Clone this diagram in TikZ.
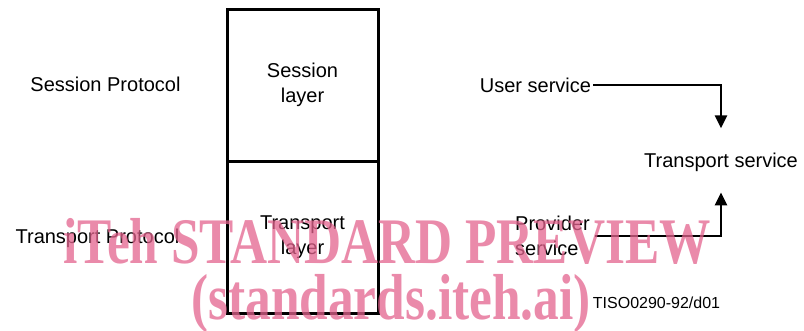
\documentclass[tikz,border=0pt]{standalone}
\usepackage{fontspec}
\setmainfont{Liberation Sans}
\newfontfamily\wmfont{Liberation Serif}
\usetikzlibrary{arrows.meta}
\definecolor{wmpink}{RGB}{228,100,142}

\begin{document}
\begin{tikzpicture}[x=1pt,y=-1pt,
    lbl/.style={font=\fontsize{20}{25}\selectfont,inner sep=0pt},
    layerbox/.style={draw,line width=3pt,minimum width=151pt,minimum height=152pt,
      align=center,font=\fontsize{20}{25}\selectfont},
    flow/.style={line width=2.6pt,-{Triangle[width=12pt,length=13pt]}},
    wmark/.style={text=wmpink,opacity=0.75,inner sep=0pt,anchor=base,xscale=0.79,
      font=\wmfont\bfseries\fontsize{65}{65}\selectfont}]

  \useasboundingbox[fill=white] (0,0) rectangle (804,330);

  % the two layers
  \node[layerbox] (sl) at (302.5,85) {Session\\layer};
  \node[layerbox] (tl) at (302.5,237) {Transport\\layer};

  \begin{scope}[every node/.style={lbl,anchor=base}]
    \node (sp) at (105.5,91)  {Session Protocol};
    \node (tp) at (97.5,243)  {Transport Protocol};
    \node (us) at (535.5,92)  {User service};
    \node (ts) at (721,167)   {Transport service};
    \node (ref) at (656.5,308) {\fontsize{16}{16}\selectfont TISO0290-92/d01};
  \end{scope}
  \node[lbl,align=left,anchor=west] (ps) at (515,236) {Provider\\service};

  \draw[flow,shorten <=2pt,shorten >=24pt] (us.east) -| (ts.north);
  \draw[flow,shorten <=5pt,shorten >=21pt] (ps.east) -| (ts.south);

  % watermark
  \node[wmark] (wm1) at (387,263) {iTeh STANDARD PREVIEW};
  \node[wmark] (wm2) at (391,319) {(standards.iteh.ai)};

\end{tikzpicture}
\end{document}
